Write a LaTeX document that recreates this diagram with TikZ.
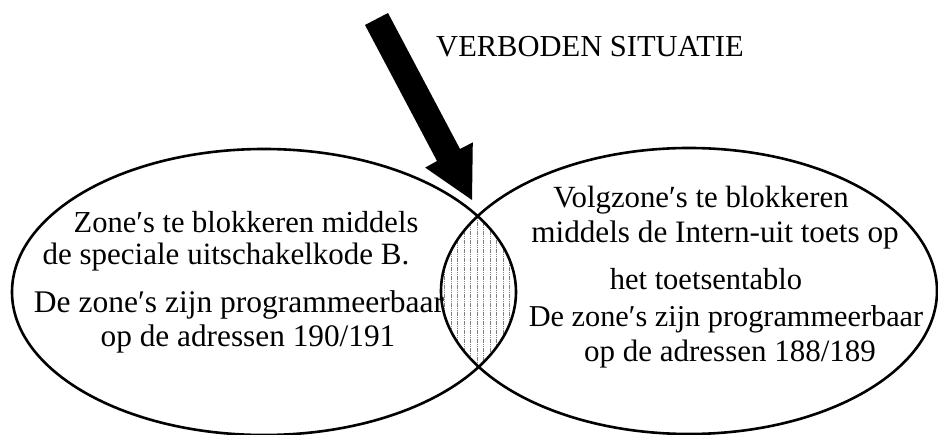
\documentclass[tikz,border=0pt]{standalone}
\usepackage{fontspec}
\setmainfont{Liberation Serif}
\newcommand{\fsz}[1]{\fontsize{#1}{#1}\selectfont}
\begin{document}
\begin{tikzpicture}[x=1pt,y=-1pt,
  outline/.style={line width=2.6pt},
  hatch/.style={gray, line width=0.8pt, dash pattern=on 1.2pt off 0.6pt},
  txt/.style={anchor=base, inner sep=0pt, font=\fsz{30.5}},
  arrowshape/.style={fill=black, draw=none}]
\useasboundingbox (0,0) rectangle (938,435);
\fill[white] (0,0) rectangle (938,435);
% hatched intersection
\begin{scope}
  \clip (264,292) ellipse [x radius=252pt, y radius=143pt];
  \clip (689,291) ellipse [x radius=248pt, y radius=143pt];
  \foreach \x in {438,444.5,...,522} \draw[hatch] (\x,200) -- (\x,385);
\end{scope}
% ellipses
\draw[outline] (264,292) ellipse [x radius=252pt, y radius=143pt];
\draw[outline] (689,291) ellipse [x radius=248pt, y radius=143pt];
% arrow
\fill[arrowshape] (365,25) -- (388,13) -- (460,149) -- (472.8,142.4) -- (472,200)
  -- (425.2,167.6) -- (437,161) -- cycle;
% title
\node[txt] (title) at (590,57) {VERBODEN SITUATIE};
% left texts
\node[txt] (l1) at (246,233) {Zone′s te blokkeren middels};
\node[txt, font=\fsz{31}] (l2) at (226,265) {de speciale uitschakelkode B.};
\node[txt, font=\fsz{31.5}] (l3) at (239,313) {De zone′s zijn programmeerbaar};
\node[txt, font=\fsz{31.3}] (l4) at (248,347) {op de adressen 190/191};
% right texts
\node[txt, font=\fsz{30.8}] (r1) at (701,208) {Volgzone′s te blokkeren};
\node[txt, font=\fsz{31.2}] (r2) at (715,243) {middels de Intern-uit toets op};
\node[txt] (r3) at (706,290) {het toetsentablo};
\node[txt, font=\fsz{30.3}] (r4) at (726,327) {De zone′s zijn programmeerbaar};
\node[txt, font=\fsz{31}] (r5) at (730,362) {op de adressen 188/189};
\end{tikzpicture}
\end{document}
